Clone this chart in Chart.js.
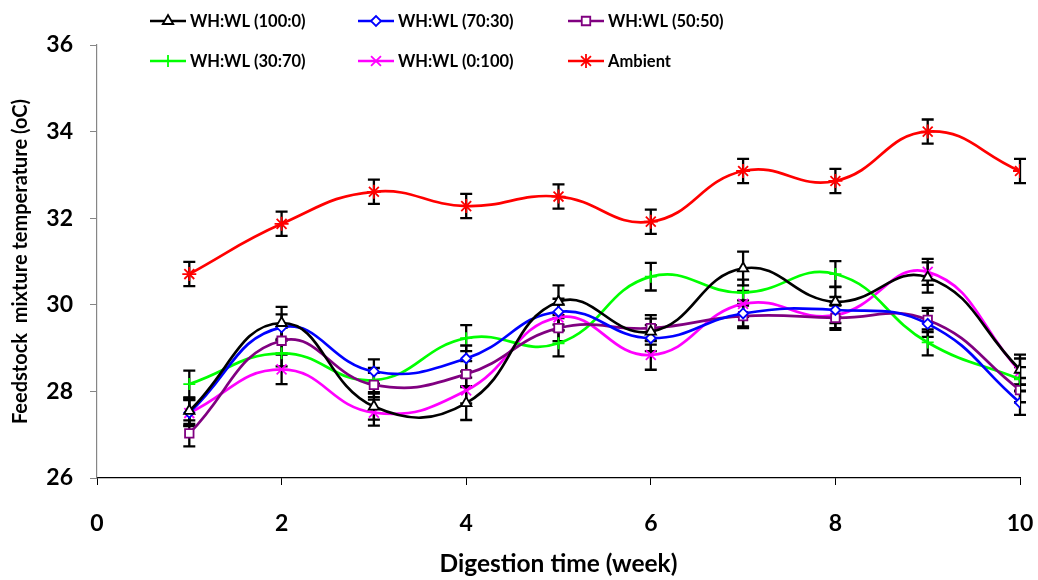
<!DOCTYPE html>
<html>
<head>
<meta charset="utf-8">
<script src="https://cdn.jsdelivr.net/npm/chart.js@4/dist/chart.umd.min.js"></script>
<style>
html,body{margin:0;padding:0;background:#fff;}
#wrap{width:1038px;height:580px;position:relative;}
</style>
</head>
<body>
<div id="wrap"><canvas id="c" width="1038" height="580"></canvas></div>
<script>
// ---- data ----
const weeks = [1, 2, 3, 4, 5, 6, 7, 8, 9, 10];
const xTicks = [0, 2, 4, 6, 8, 10];
const yTicks = [26, 28, 30, 32, 34, 36];
const seriesNames = ['WH:WL (100:0)', 'WH:WL (70:30)', 'WH:WL (50:50)', 'WH:WL (30:70)', 'WH:WL (0:100)', 'Ambient'];
const wh100 = [27.55, 29.58, 27.65, 27.73, 30.07, 29.38, 30.84, 30.07, 30.63, 28.50];
const wh70  = [27.51, 29.48, 28.46, 28.76, 29.84, 29.23, 29.80, 29.88, 29.56, 27.74];
const wh50  = [27.03, 29.17, 28.15, 28.40, 29.46, 29.46, 29.74, 29.70, 29.65, 28.03];
const wh30  = [28.17, 28.88, 28.26, 29.23, 29.11, 30.65, 30.28, 30.71, 29.13, 28.28];
const wh0   = [27.50, 28.51, 27.51, 28.02, 29.71, 28.84, 30.02, 29.76, 30.76, 28.46];
const ambient = [30.71, 31.87, 32.61, 32.28, 32.50, 31.92, 33.09, 32.86, 34.00, 33.09];
const err100 = [0.30, 0.37, 0.30, 0.39, 0.38, 0.30, 0.39, 0.35, 0.35, 0.35];
const err70  = [0.30, 0.30, 0.28, 0.30, 0.30, 0.30, 0.30, 0.30, 0.30, 0.28];
const err50  = [0.30, 0.30, 0.28, 0.30, 0.30, 0.30, 0.28, 0.28, 0.28, 0.28];
const err30  = [0.31, 0.30, 0.28, 0.30, 0.30, 0.32, 0.30, 0.30, 0.30, 0.28];
const err0   = [0.30, 0.34, 0.30, 0.30, 0.30, 0.34, 0.30, 0.30, 0.30, 0.30];
const errAmb = [0.28, 0.28, 0.28, 0.28, 0.28, 0.28, 0.28, 0.28, 0.28, 0.28];

const FONT = 'Lato, "Open Sans", sans-serif';

const styles = [
  {color:'#000000', pointStyle:'triangle', radius:6, fill:'#ffffff'},
  {color:'#0000ff', pointStyle:'rectRot',  radius:5, fill:'#ffffff'},
  {color:'#800080', pointStyle:'rect',     radius:6, fill:'#ffffff'},
  {color:'#00ff00', pointStyle:'cross',    radius:6, fill:'#00ff00'},
  {color:'#ff00ff', pointStyle:'crossRot', radius:7, fill:'#ff00ff'},
  {color:'#ff0000', pointStyle:'star',     radius:7, fill:'#ff0000'}
];
const values = [wh100, wh70, wh50, wh30, wh0, ambient];
const errors = [err100, err70, err50, err30, err0, errAmb];

const datasets = values.map((vals, i) => ({
  label: seriesNames[i],
  data: weeks.map((w, j) => ({x: w, y: vals[j]})),
  errs: errors[i],
  borderColor: styles[i].color,
  backgroundColor: styles[i].fill,
  borderWidth: 2.7,
  pointStyle: styles[i].pointStyle,
  pointRadius: styles[i].radius,
  pointBorderWidth: 1.8,
  pointBorderColor: styles[i].color,
  pointBackgroundColor: styles[i].fill,
  tension: 0.45,
  fill: false
}));

const errorBars = {
  id: 'errorBars',
  beforeDatasetsDraw(chart) {
    const ctx = chart.ctx;
    const xs = chart.scales.x, ys = chart.scales.y;
    ctx.save();
    ctx.strokeStyle = '#000';
    ctx.lineWidth = 2.3;
    chart.data.datasets.forEach(ds => {
      ds.data.forEach((p, j) => {
        const e = ds.errs[j];
        const x = xs.getPixelForValue(p.x);
        const y1 = ys.getPixelForValue(p.y - e);
        const y2 = ys.getPixelForValue(p.y + e);
        ctx.beginPath();
        ctx.moveTo(x, y1); ctx.lineTo(x, y2);
        ctx.moveTo(x - 6, y1); ctx.lineTo(x + 6, y1);
        ctx.moveTo(x - 6, y2); ctx.lineTo(x + 6, y2);
        ctx.stroke();
      });
    });
    ctx.restore();
  }
};

const legendPlugin = {
  id: 'customLegend',
  afterDraw(chart) {
    const ctx = chart.ctx;
    const cols = [150, 358, 568];
    const rows = [21, 61];
    ctx.save();
    chart.data.datasets.forEach((ds, i) => {
      const x = cols[i % 3], y = rows[Math.floor(i / 3)];
      ctx.strokeStyle = ds.borderColor;
      ctx.lineWidth = 2.7;
      ctx.beginPath(); ctx.moveTo(x, y); ctx.lineTo(x + 36, y); ctx.stroke();
      ctx.fillStyle = ds.pointBackgroundColor;
      ctx.strokeStyle = ds.pointBorderColor;
      ctx.lineWidth = 1.8;
      Chart.helpers.drawPoint(ctx, {pointStyle: ds.pointStyle, radius: ds.pointRadius, rotation: 0, borderWidth: 1.8}, x + 18, y);
      ctx.fillStyle = '#000';
      ctx.font = 'bold 16.5px ' + FONT;
      ctx.textBaseline = 'middle';
      ctx.textAlign = 'left';
      ctx.fillText(ds.label, x + 40, y + 1);
    });
    ctx.restore();
  }
};

new Chart(document.getElementById('c'), {
  type: 'line',
  data: {datasets},
  plugins: [errorBars, legendPlugin],
  options: {
    responsive: false,
    animation: false,
    devicePixelRatio: 1,
    layout: {padding: {left: 0, right: 18, top: 45, bottom: 0}},
    plugins: {legend: {display: false}, tooltip: {enabled: false}},
    scales: {
      x: {
        type: 'linear', min: 0, max: 10,
        afterFit(s) { s.height = 102; s.paddingLeft = 0; s.paddingRight = 0; },
        afterBuildTicks(s) { s.ticks = xTicks.map(v => ({value: v})); },
        ticks: {color: '#000', font: {family: FONT, size: 23, weight: 'bold'}, padding: 25, maxRotation: 0},
        grid: {drawOnChartArea: false, drawTicks: true, tickLength: 7, color: '#000'},
        border: {color: '#000', width: 1.2},
        title: {display: true, text: 'Digestion time (week)', color: '#000', font: {family: FONT, size: 24.5, weight: 'bold'}, padding: {top: 0, bottom: 1}}
      },
      y: {
        min: 26, max: 36,
        afterFit(s) { s.width = 97; s.paddingTop = 0; s.paddingBottom = 0; },
        afterBuildTicks(s) { s.ticks = yTicks.map(v => ({value: v})); },
        ticks: {color: '#000', font: {family: FONT, size: 23, weight: 'bold'}, padding: 17},
        grid: {drawOnChartArea: false, drawTicks: true, tickLength: 7, color: '#868686'},
        border: {color: '#868686', width: 1.2},
        title: {display: true, text: 'Feedstock  mixture temperature (oC)', color: '#000', font: {family: FONT, size: 20, weight: 'bold'}, padding: {top: 9, bottom: 0}}
      }
    }
  }
});
</script>
</body>
</html>
